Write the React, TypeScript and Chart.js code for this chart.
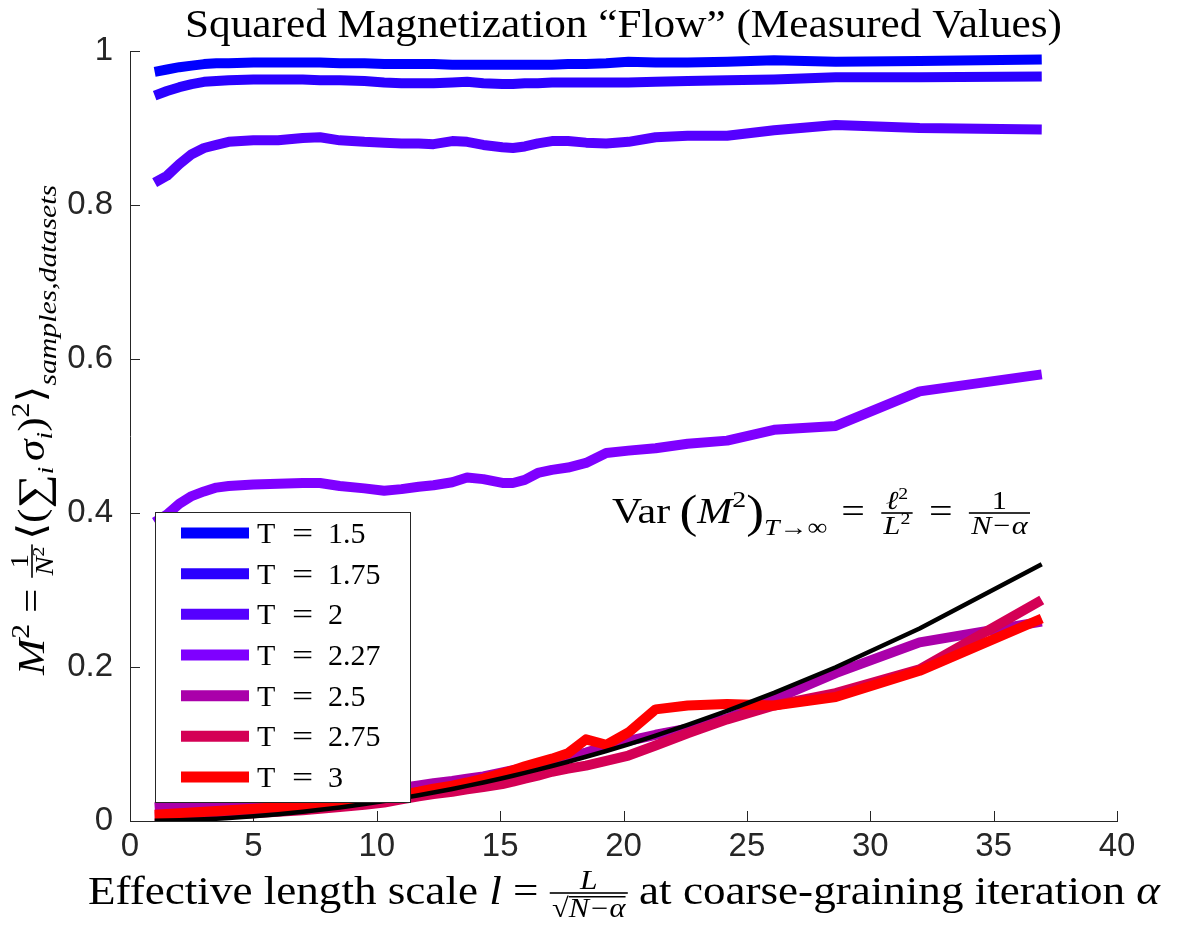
import React, { useEffect, useRef } from 'react';
import { Chart, registerables } from 'chart.js';

Chart.register(...registerables);

// ---------- data ----------
const X_VALUES = [1, 1.5, 2, 2.5, 3, 3.5, 4, 5, 6, 7, 7.7, 8.5, 9.5, 10.3, 11, 11.7, 12.3, 13.06, 13.66, 14.32, 15.09, 15.52, 16.0, 16.53, 17.1, 17.75, 18.48, 19.3, 20.2, 21.3, 22.6, 24.2, 26.1, 28.6, 32, 36.95];

const T_150 = [0.973, 0.976, 0.979, 0.981, 0.983, 0.984, 0.984, 0.985, 0.985, 0.985, 0.985, 0.984, 0.984, 0.983, 0.983, 0.983, 0.983, 0.982, 0.982, 0.982, 0.982, 0.982, 0.982, 0.982, 0.982, 0.983, 0.983, 0.984, 0.986, 0.985, 0.985, 0.986, 0.988, 0.986, 0.987, 0.989];
const T_175 = [0.942, 0.948, 0.953, 0.957, 0.960, 0.961, 0.962, 0.963, 0.963, 0.963, 0.962, 0.962, 0.961, 0.959, 0.958, 0.958, 0.958, 0.959, 0.960, 0.958, 0.957, 0.957, 0.958, 0.958, 0.959, 0.959, 0.959, 0.959, 0.959, 0.960, 0.961, 0.962, 0.963, 0.966, 0.966, 0.967];
const T_200 = [0.829, 0.838, 0.853, 0.866, 0.874, 0.878, 0.882, 0.884, 0.884, 0.887, 0.888, 0.884, 0.882, 0.881, 0.880, 0.880, 0.879, 0.883, 0.882, 0.878, 0.875, 0.874, 0.876, 0.880, 0.883, 0.883, 0.881, 0.880, 0.882, 0.888, 0.890, 0.890, 0.897, 0.904, 0.900, 0.898];
const T_227 = [0.388, 0.398, 0.412, 0.422, 0.428, 0.433, 0.435, 0.437, 0.438, 0.439, 0.439, 0.435, 0.432, 0.429, 0.431, 0.434, 0.436, 0.440, 0.446, 0.444, 0.439, 0.439, 0.443, 0.452, 0.456, 0.459, 0.465, 0.478, 0.481, 0.484, 0.490, 0.494, 0.508, 0.513, 0.558, 0.580];
const T_250 = [0.018, 0.019, 0.020, 0.021, 0.022, 0.023, 0.024, 0.026, 0.028, 0.031, 0.033, 0.035, 0.038, 0.041, 0.043, 0.046, 0.049, 0.052, 0.055, 0.058, 0.063, 0.066, 0.069, 0.073, 0.077, 0.083, 0.089, 0.097, 0.104, 0.112, 0.120, 0.133, 0.158, 0.192, 0.232, 0.259];
const T_275 = [0.006, 0.006, 0.007, 0.007, 0.008, 0.008, 0.009, 0.010, 0.012, 0.014, 0.016, 0.018, 0.021, 0.024, 0.028, 0.032, 0.035, 0.038, 0.041, 0.044, 0.048, 0.051, 0.055, 0.059, 0.064, 0.068, 0.072, 0.078, 0.085, 0.098, 0.114, 0.132, 0.150, 0.166, 0.197, 0.287];
const T_300 = [0.008, 0.009, 0.010, 0.011, 0.012, 0.013, 0.014, 0.016, 0.018, 0.020, 0.022, 0.025, 0.028, 0.031, 0.034, 0.038, 0.042, 0.046, 0.050, 0.055, 0.062, 0.066, 0.071, 0.076, 0.081, 0.088, 0.106, 0.099, 0.115, 0.145, 0.150, 0.152, 0.150, 0.161, 0.195, 0.263];
const VAR_LIMIT = [0.0002, 0.0005, 0.001, 0.0015, 0.0022, 0.003, 0.0039, 0.0061, 0.0088, 0.012, 0.0145, 0.0176, 0.022, 0.0259, 0.0295, 0.0334, 0.0369, 0.0416, 0.0456, 0.05, 0.0556, 0.0588, 0.0625, 0.0667, 0.0714, 0.0769, 0.0834, 0.0909, 0.0996, 0.1108, 0.1247, 0.143, 0.1663, 0.1997, 0.25, 0.3333];

const SERIES_LABELS = ['T = 1.5', 'T = 1.75', 'T = 2', 'T = 2.27', 'T = 2.5', 'T = 2.75', 'T = 3'];
const SERIES_VALUES = [T_150, T_175, T_200, T_227, T_250, T_275, T_300];
const SERIES_COLORS = ['#0000ff', '#2a00ff', '#5500ff', '#7f00ff', '#aa00aa', '#d40055', '#ff0000'];

const X_MIN = 0, X_MAX = 40, X_STEP = 5;
const Y_MIN = 0, Y_MAX = 1, Y_STEP = 0.2;

// ---------- text helpers ----------
const SERIF = "'Liberation Serif', 'DejaVu Serif', serif";
const R = (s: number) => `${s}px ${SERIF}`;
const I = (s: number) => `italic ${s}px ${SERIF}`;
const AX = '#262626';

type TextSeg = { t: string; f: string; dy?: number; gap?: number; ol?: number };
type FracSeg = { num: Seg[]; den: Seg[]; axis: number; nUp: number; dDown: number; pad?: number; gap?: number; lw?: number };
type Seg = TextSeg | FracSeg;

function segsWidth(ctx: CanvasRenderingContext2D, segs: Seg[]): number {
  let w = 0;
  for (const s of segs) w += segWidth(ctx, s);
  return w;
}
function segWidth(ctx: CanvasRenderingContext2D, s: Seg): number {
  if ('t' in s) {
    ctx.font = s.f;
    return (s.gap || 0) + ctx.measureText(s.t).width;
  }
  const pad = s.pad ?? 2;
  return (s.gap || 0) + Math.max(segsWidth(ctx, s.num), segsWidth(ctx, s.den)) + 2 * pad;
}
function drawSegs(ctx: CanvasRenderingContext2D, segs: Seg[], x: number, y: number): number {
  for (const s of segs) {
    x += s.gap || 0;
    if ('t' in s) {
      ctx.font = s.f;
      const w = ctx.measureText(s.t).width;
      ctx.fillText(s.t, x, y + (s.dy || 0));
      if (s.ol) ctx.fillRect(x, y + (s.dy || 0) - s.ol, w, 1.5);
      x += w;
    } else {
      const pad = s.pad ?? 2;
      const nw = segsWidth(ctx, s.num);
      const dw = segsWidth(ctx, s.den);
      const w = Math.max(nw, dw) + 2 * pad;
      const by = y - s.axis;
      const lw = s.lw || 1.6;
      ctx.fillRect(x, by - lw / 2, w, lw);
      drawSegs(ctx, s.num, x + (w - nw) / 2, by - s.nUp);
      drawSegs(ctx, s.den, x + (w - dw) / 2, by + s.dDown);
      x += w;
    }
  }
  return x;
}
function drawRich(ctx: CanvasRenderingContext2D, segs: Seg[], cx: number, base: number, targetW: number, rotate = false) {
  ctx.save();
  const natural = segsWidth(ctx, segs);
  const sx = targetW ? targetW / natural : 1;
  ctx.translate(cx, base);
  if (rotate) ctx.rotate(-Math.PI / 2);
  ctx.scale(sx, 1);
  ctx.textAlign = 'left';
  ctx.textBaseline = 'alphabetic';
  ctx.fillStyle = '#000';
  drawSegs(ctx, segs, -natural / 2, 0);
  ctx.restore();
}

const TITLE_SEGS: Seg[] = [{ t: 'Squared Magnetization “Flow” (Measured Values)', f: R(40) }];
const XLABEL_SEGS: Seg[] = [
  { t: 'Effective length scale ', f: R(40) },
  { t: 'l', f: I(40) },
  { t: ' = ', f: R(40) },
  { num: [{ t: 'L', f: I(28) }], den: [{ t: '√', f: R(27) }, { t: 'N−α', f: I(27), ol: 21 }], axis: 11, nUp: 4, dDown: 24, pad: 2 },
  { t: ' at coarse-graining iteration ', f: R(40) },
  { t: 'α', f: I(40) },
];
const YLABEL_SEGS: Seg[] = [
  { t: 'M', f: I(38) },
  { t: '2', f: R(26), dy: -15 },
  { t: ' = ', f: R(38) },
  { num: [{ t: '1', f: R(25) }], den: [{ t: 'N', f: I(25) }, { t: '2', f: R(17), dy: -9 }], axis: 12, nUp: 4, dDown: 21, pad: 2 },
  { t: '⟨', f: R(38), gap: 4 },
  { t: '(', f: R(38) },
  { t: '∑', f: R(42), dy: 3 },
  { t: 'i', f: I(24), dy: 9 },
  { t: 'σ', f: I(38), gap: 5 },
  { t: 'i', f: I(24), dy: 8 },
  { t: ')', f: R(38) },
  { t: '2', f: R(26), dy: -15 },
  { t: '⟩', f: R(38) },
  { t: 'samples,datasets', f: I(26), dy: 12 },
];
const ANNOT_SEGS: Seg[] = [
  { t: 'Var', f: R(36) },
  { t: '(', f: R(46), dy: 4, gap: 8 },
  { t: 'M', f: I(36) },
  { t: '2', f: R(24), dy: -16 },
  { t: ')', f: R(46), dy: 4 },
  { t: 'T', f: I(24), dy: 12 },
  { t: '→∞', f: R(24), dy: 12 },
  { t: '=', f: R(36), gap: 12 },
  { num: [{ t: 'ℓ', f: I(26) }, { t: '2', f: R(17), dy: -10 }], den: [{ t: 'L', f: I(26) }, { t: '2', f: R(17), dy: -10 }], axis: 10, nUp: 4, dDown: 21, pad: 2, gap: 14 },
  { t: '=', f: R(36), gap: 14 },
  { num: [{ t: '1', f: R(26) }], den: [{ t: 'N−α', f: I(26) }], axis: 10, nUp: 4, dDown: 21, pad: 2, gap: 14 },
];

const decorPlugin = {
  id: 'decor',
  beforeDatasetsDraw(chart: any) {
    const ctx: CanvasRenderingContext2D = chart.ctx;
    const { left, bottom } = chart.chartArea;
    const xs = chart.scales.x;
    const ys = chart.scales.y;
    ctx.save();
    ctx.strokeStyle = AX;
    ctx.lineWidth = 1;
    ctx.beginPath();
    for (let v = X_MIN; v <= X_MAX; v += X_STEP) {
      const px = Math.round(xs.getPixelForValue(v)) + 0.5;
      ctx.moveTo(px, bottom);
      ctx.lineTo(px, bottom - 10);
    }
    for (let v = Y_MIN; v <= Y_MAX + 1e-9; v += Y_STEP) {
      const py = Math.round(ys.getPixelForValue(v)) + 0.5;
      ctx.moveTo(left, py);
      ctx.lineTo(left + 10, py);
    }
    ctx.stroke();
    ctx.restore();
  },
  afterDraw(chart: any) {
    const ctx: CanvasRenderingContext2D = chart.ctx;
    ctx.save();
    // legend box
    const bx = 155, by = 512, bw = 255, bh = 290;
    ctx.fillStyle = '#fff';
    ctx.fillRect(bx, by, bw, bh);
    ctx.strokeStyle = AX;
    ctx.lineWidth = 1;
    ctx.strokeRect(bx + 0.5, by + 0.5, bw, bh);
    SERIES_LABELS.forEach((lab, i) => {
      const ry = 533 + i * 40.67;
      ctx.strokeStyle = SERIES_COLORS[i];
      ctx.lineWidth = 11;
      ctx.lineCap = 'butt';
      ctx.beginPath();
      ctx.moveTo(181, ry);
      ctx.lineTo(249, ry);
      ctx.stroke();
      const parts = lab.split(' = ');
      ctx.fillStyle = '#000';
      ctx.font = R(30);
      ctx.textBaseline = 'alphabetic';
      ctx.textAlign = 'left';
      ctx.fillText(parts[0], 257, ry + 10);
      ctx.textAlign = 'center';
      ctx.save();
      ctx.translate(302.5, ry + 10);
      ctx.scale(1.25, 1);
      ctx.fillText('=', 0, 0);
      ctx.restore();
      ctx.textAlign = 'left';
      ctx.fillText(parts[1], 328, ry + 10);
    });
    ctx.restore();
    // texts
    drawRich(ctx, TITLE_SEGS, 623.5, 37, 877);
    drawRich(ctx, XLABEL_SEGS, 624, 904, 1072);
    drawRich(ctx, YLABEL_SEGS, 44, 430, 490, true);
    drawRich(ctx, ANNOT_SEGS, 612 + 209, 523, 418);
  },
};

export default function App() {
  const ref = useRef<HTMLCanvasElement>(null);
  useEffect(() => {
    const canvas = ref.current!;
    const mk = (arr: number[]) => X_VALUES.map((x, i) => ({ x, y: arr[i] }));
    const datasets: any[] = [
      {
        label: 'Var limit',
        data: mk(VAR_LIMIT),
        borderColor: '#000000',
        borderWidth: 4.5,
        pointRadius: 0,
        fill: false,
        tension: 0,
        borderJoinStyle: 'round',
      },
    ];
    for (let i = SERIES_VALUES.length - 1; i >= 0; i--) {
      datasets.push({
        label: SERIES_LABELS[i],
        data: mk(SERIES_VALUES[i]),
        borderColor: SERIES_COLORS[i],
        borderWidth: 10,
        pointRadius: 0,
        fill: false,
        tension: 0,
        borderJoinStyle: 'round',
        borderCapStyle: 'butt',
      });
    }
    const tickFont = { family: "'Liberation Sans', Arial, sans-serif", size: 33 };
    const fmt = (v: any) => String(Math.round(Number(v) * 10) / 10);
    const chart = new Chart(canvas, {
      type: 'line',
      data: { datasets },
      options: {
        animation: false,
        responsive: false,
        devicePixelRatio: 1,
        events: [],
        layout: { padding: { left: 0, top: 51, right: 64, bottom: 0 } },
        plugins: { legend: { display: false }, title: { display: false }, tooltip: { enabled: false } },
        scales: {
          x: {
            type: 'linear',
            min: X_MIN,
            max: X_MAX,
            afterFit: (s: any) => { s.height = 117; },
            ticks: { stepSize: X_STEP, font: tickFont, color: AX, padding: 6, maxRotation: 0, autoSkip: false, callback: fmt },
            grid: { display: true, drawOnChartArea: false, drawTicks: false, color: 'rgba(0,0,0,0)' },
            border: { display: true, color: AX, width: 1 },
          },
          y: {
            type: 'linear',
            min: Y_MIN,
            max: Y_MAX,
            afterFit: (s: any) => { s.width = 130; },
            ticks: { stepSize: Y_STEP, font: tickFont, color: AX, padding: 17, callback: fmt },
            grid: { display: true, drawOnChartArea: false, drawTicks: false, color: 'rgba(0,0,0,0)' },
            border: { display: true, color: AX, width: 1 },
          },
        },
      } as any,
      plugins: [decorPlugin],
    });
    return () => chart.destroy();
  }, []);
  return (
    <div style={{ position: 'fixed', left: 0, top: 0, width: 1181, height: 938, background: '#fff' }}>
      <canvas ref={ref} width={1181} height={938} style={{ width: 1181, height: 938, display: 'block' }} />
    </div>
  );
}
